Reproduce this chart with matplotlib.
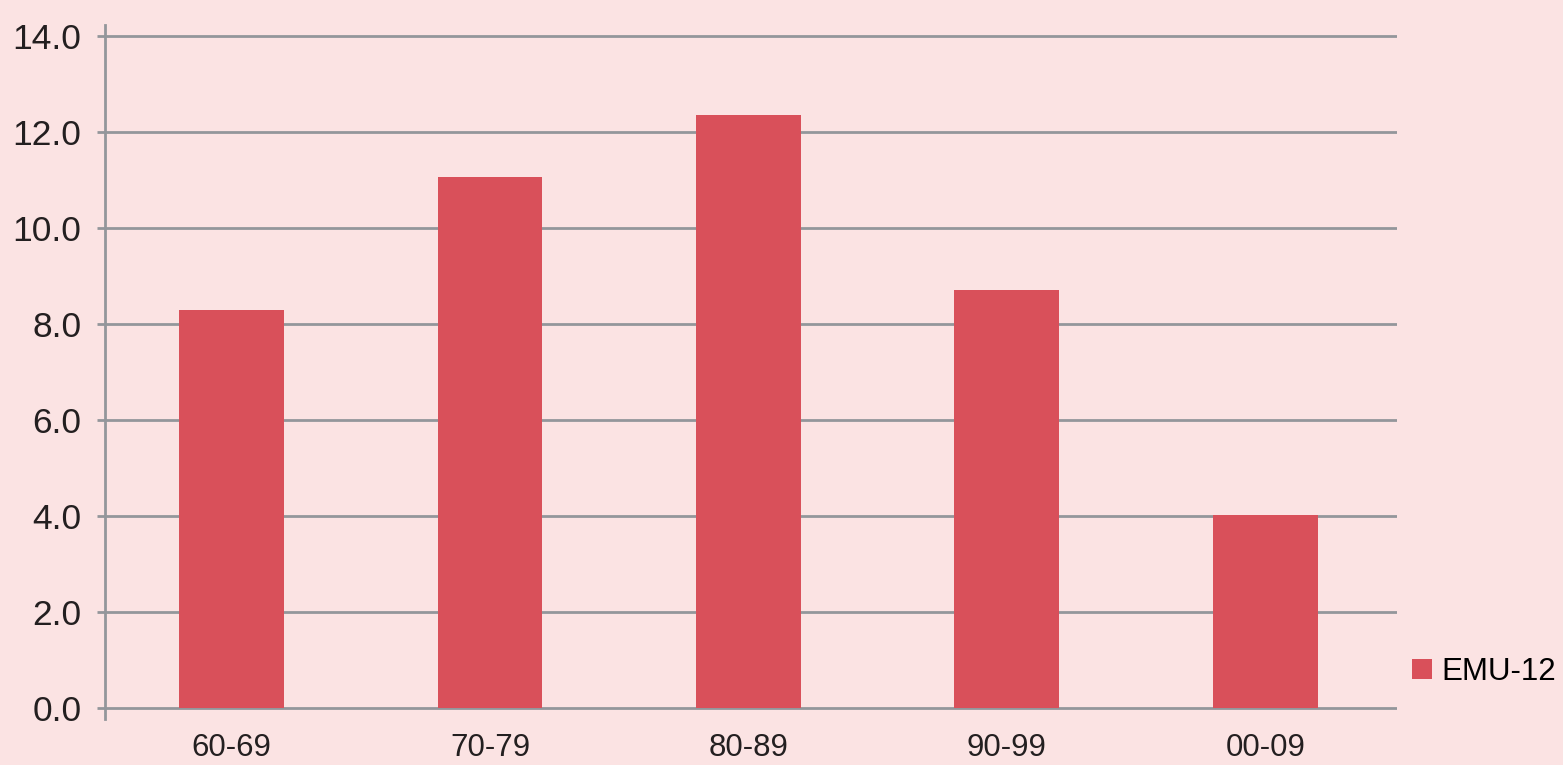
import matplotlib
matplotlib.use("Agg")
import matplotlib.pyplot as plt

categories = ["60-69", "70-79", "80-89", "90-99", "00-09"]
values = [8.3, 11.06, 12.35, 8.71, 4.02]
series_name = "EMU-12"
yticks = [0, 2, 4, 6, 8, 10, 12, 14]

bg = "#FBE3E3"
bar_color = "#D9505A"
grid_color = "#93969B"

plt.rcParams["font.family"] = ["Liberation Sans", "DejaVu Sans"]

fig = plt.figure(figsize=(15.63, 7.65), dpi=100, facecolor=bg)
ax = fig.add_axes([105/1563, 1-719/765, (1397-105)/1563, (719-25)/765])
ax.set_facecolor(bg)

x = range(len(categories))
bars = ax.bar(x, values, width=0.405, color=bar_color, label=series_name, zorder=3)

ax.set_xlim(-0.49, len(categories)-0.49)
ax.set_ylim(-0.23, 14.23)
ax.set_yticks(yticks)
ax.set_yticklabels([f"{v:.1f}" for v in yticks], fontsize=25.5, color="#231F20")
ax.set_xticks(list(x))
ax.set_xticklabels(categories, fontsize=22.5, color="#231F20")

for s in ["top", "right", "bottom"]:
    ax.spines[s].set_visible(False)
ax.spines["left"].set_color(grid_color)
ax.spines["left"].set_linewidth(2)

ax.yaxis.grid(True, color=grid_color, linewidth=2, zorder=1)
ax.set_axisbelow(True)
ax.tick_params(axis="y", length=6, width=2, color=grid_color, pad=11)
ax.tick_params(axis="x", length=0, pad=10)

fig.legend(handles=[bars], labels=[series_name], loc="center left",
           bbox_to_anchor=(1412/1563, 1-672/765), frameon=False, fontsize=22.5,
           handlelength=0.64, handleheight=0.64, handletextpad=0.3,
           borderaxespad=0, borderpad=0)

fig.savefig("out.png", dpi=100, facecolor=bg)
